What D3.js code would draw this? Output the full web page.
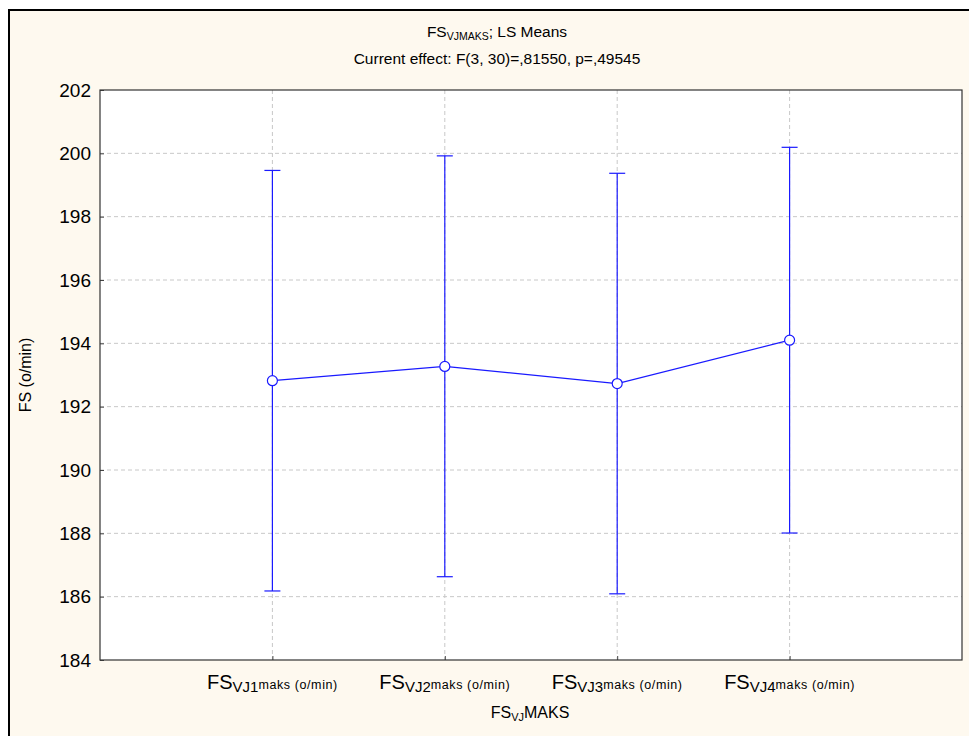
<!DOCTYPE html>
<html><head><meta charset="utf-8">
<script src="https://d3js.org/d3.v7.min.js"></script>
<style>body{margin:0;background:#fff;}svg{display:block;font-family:Arial,"Liberation Sans",sans-serif;}</style>
</head><body>
<script>
const categories = ["VJ1", "VJ2", "VJ3", "VJ4"];
const means = [192.82, 193.27, 192.73, 194.10];
const upper = [199.46, 199.92, 199.37, 200.19];
const lower = [186.18, 186.63, 186.09, 188.01];
const yTicks = [184, 186, 188, 190, 192, 194, 196, 198, 200, 202];

const W = 969, H = 736;
const m = {left: 100, top: 90, right: 962, bottom: 660};
const svg = d3.select("body").append("svg").attr("width", W).attr("height", H);

svg.append("rect").attr("x", 0).attr("y", 0).attr("width", W).attr("height", H).attr("fill", "#fff");
svg.append("rect").attr("x", 9).attr("y", 10).attr("width", W + 20).attr("height", H + 20)
  .attr("fill", "#fef9ef").attr("stroke", "#000").attr("stroke-width", 2);

const x = d3.scalePoint().domain(categories).range([m.left, m.right]).padding(1);
const y = d3.scaleLinear().domain([184, 202]).range([m.bottom, m.top]);

svg.append("rect").attr("x", m.left).attr("y", m.top).attr("width", m.right - m.left).attr("height", m.bottom - m.top)
  .attr("fill", "#fff");

// gridlines
svg.append("g").selectAll("line").data(yTicks.filter(d => d > 184 && d < 202)).join("line")
  .attr("x1", m.left).attr("x2", m.right).attr("y1", d => y(d)).attr("y2", d => y(d))
  .attr("stroke", "#c8c8c8").attr("stroke-dasharray", "4,3");
svg.append("g").selectAll("line").data(categories).join("line")
  .attr("x1", d => x(d)).attr("x2", d => x(d)).attr("y1", m.top).attr("y2", m.bottom)
  .attr("stroke", "#c8c8c8").attr("stroke-dasharray", "4,3");

// axes
const yAxis = d3.axisLeft(y).tickValues(yTicks).tickSize(-4).tickPadding(9);
const gy = svg.append("g").attr("transform", `translate(${m.left},0)`).call(yAxis);
gy.select(".domain").remove();
gy.selectAll("text").attr("font-size", 19).attr("fill", "#000").attr("font-family", "Arial, 'Liberation Sans', sans-serif");
gy.selectAll("line").attr("stroke", "#444");

const xAxis = d3.axisBottom(x).tickSize(-4).tickFormat("");
const gx = svg.append("g").attr("transform", `translate(0,${m.bottom})`).call(xAxis);
gx.select(".domain").remove();
gx.selectAll("line").attr("stroke", "#444");

// plot frame
svg.append("rect").attr("x", m.left).attr("y", m.top).attr("width", m.right - m.left).attr("height", m.bottom - m.top)
  .attr("fill", "none").attr("stroke", "#333").attr("stroke-width", 1.2);

// x tick labels
const lab = svg.append("g").selectAll("text").data(categories).join("text")
  .attr("x", d => x(d)).attr("y", 689).attr("text-anchor", "middle").attr("fill", "#000");
lab.append("tspan").attr("font-size", 20).text("FS");
lab.append("tspan").attr("font-size", 15).attr("dy", 3).text(d => d);
lab.append("tspan").attr("font-size", 12.5).attr("letter-spacing", 0.6).attr("dy", -3).text("maks (o/min)");

// axis titles
const xt = svg.append("text").attr("x", 530).attr("y", 718).attr("text-anchor", "middle").attr("font-size", 16);
xt.append("tspan").text("FS");
xt.append("tspan").attr("font-size", 11).attr("dy", 3).text("VJ");
xt.append("tspan").attr("dy", -3).text("MAKS");

svg.append("text").attr("transform", `translate(31,${(m.top + m.bottom) / 2}) rotate(-90)`)
  .attr("text-anchor", "middle").attr("font-size", 16).text("FS (o/min)");

const t1 = svg.append("text").attr("x", 497).attr("y", 37).attr("text-anchor", "middle").attr("font-size", 15.5);
t1.append("tspan").text("FS");
t1.append("tspan").attr("font-size", 10.5).attr("dy", 3).text("VJMAKS");
t1.append("tspan").attr("dy", -3).text("; LS Means");
svg.append("text").attr("x", 497).attr("y", 64).attr("text-anchor", "middle").attr("font-size", 15.5)
  .text("Current effect: F(3, 30)=,81550, p=,49545");

// error bars
const blue = "#1a1aff";
const eb = svg.append("g").attr("stroke", blue).attr("stroke-width", 1.2);
categories.forEach((c, i) => {
  eb.append("line").attr("x1", x(c)).attr("x2", x(c)).attr("y1", y(upper[i])).attr("y2", y(lower[i]));
  eb.append("line").attr("x1", x(c) - 8).attr("x2", x(c) + 8).attr("y1", y(upper[i])).attr("y2", y(upper[i]));
  eb.append("line").attr("x1", x(c) - 8).attr("x2", x(c) + 8).attr("y1", y(lower[i])).attr("y2", y(lower[i]));
});

const pts = categories.map((c, i) => [x(c), y(means[i])]);
svg.append("path").attr("d", d3.line()(pts)).attr("fill", "none").attr("stroke", blue).attr("stroke-width", 1.2);
svg.append("g").selectAll("circle").data(pts).join("circle")
  .attr("cx", d => d[0]).attr("cy", d => d[1]).attr("r", 5)
  .attr("fill", "#fff").attr("stroke", blue).attr("stroke-width", 1.2);
</script>
</body></html>
